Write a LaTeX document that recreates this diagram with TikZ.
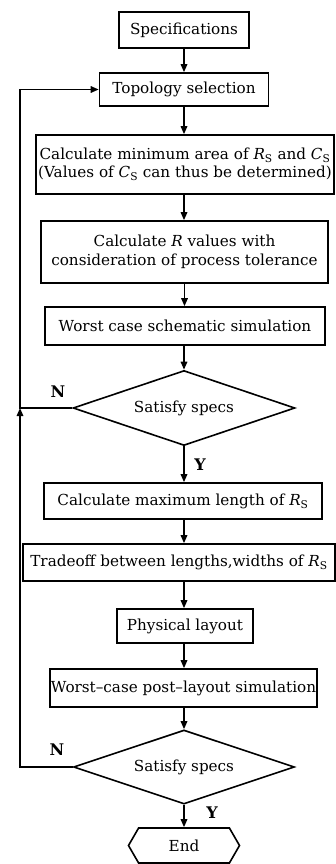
\documentclass[tikz,border=0pt]{standalone}
\usepackage{fontspec}
\setmainfont{DejaVu Serif}
\usetikzlibrary{arrows.meta,positioning,shapes.geometric,shapes.symbols}

\begin{document}
\begin{tikzpicture}[
  x=1pt,y=-1pt,
  font=\fontsize{15.2}{18.5}\selectfont,
  stepbox/.style={draw,line width=1.6pt,align=center,inner sep=1pt},
  test/.style={diamond,draw,line width=1.6pt,aspect=3,inner sep=0pt},
  arr/.style={line width=1.6pt,-{Triangle[length=8pt,width=6.5pt]}},
  lbl/.style={font=\fontsize{16}{19}\selectfont\bfseries}
]
  \useasboundingbox (0,0) rectangle (336,864);
  \node[stepbox,minimum width=130,minimum height=36] (spec) at (184,30) {Specifications};
  \node[stepbox,minimum width=169,minimum height=33] (topo) at (184,89.5) {Topology selection};
  \node[stepbox,minimum width=298,minimum height=59] (area) at (185,164.5)
    {Calculate minimum area of \textit{R}\textsubscript{S} and \textit{C}\textsubscript{S}\\(Values of \textit{C}\textsubscript{S} can thus be determined)};
  \node[stepbox,minimum width=287,minimum height=62] (rval) at (184.5,252)
    {Calculate \textit{R} values with\\consideration of process tolerance};
  \node[stepbox,minimum width=280,minimum height=38] (worst) at (185,326) {Worst case schematic simulation};
  \node[test,minimum width=222,minimum height=75] (sat1) at (184,408) {Satisfy specs};
  \node[stepbox,minimum width=278,minimum height=36] (maxlen) at (183,501) {Calculate maximum length of \textit{R}\textsubscript{S}};
  \node[stepbox,minimum width=312,minimum height=37] (trade) at (179,562.5) {Tradeoff between lengths,widths of \textit{R}\textsubscript{S}};
  \node[stepbox,minimum width=136,minimum height=34] (phys) at (185,626) {Physical layout};
  \node[stepbox,minimum width=267,minimum height=38] (post) at (183.5,688) {Worst--case post--layout simulation};
  \node[test,minimum width=221,minimum height=74] (sat2) at (184,767) {Satisfy specs};
  \node[draw,line width=1.6pt,signal,signal to=east and west,signal pointer angle=120,
    minimum width=111,minimum height=35,inner sep=0pt] (end) at (184,845.5) {End};
  % yes / no labels
  \node[lbl] (n1) at (58,392) {N};
  \node[lbl] (y1) at (200,465) {Y};
  \node[lbl] (n2) at (57,750) {N};
  \node[lbl] (y2) at (212,813) {Y};
  \coordinate (j1) at (20,408);
  % flow
  \draw[arr] (spec.south) -- (spec.south |- topo.north);
  \draw[arr] (topo.south) -- (topo.south |- area.north);
  \draw[arr] (topo.south |- area.south) -- (topo.south |- rval.north);
  \draw[arr] (rval.south) -- (rval.south |- worst.north);
  \draw[arr] (sat1.north |- worst.south) -- (sat1.north);
  \draw[arr] (sat1.south) -- (sat1.south |- maxlen.north);
  \draw[arr] (sat1.south |- maxlen.south) -- (sat1.south |- trade.north);
  \draw[arr] (sat1.south |- trade.south) -- (sat1.south |- phys.north);
  \draw[arr] (sat1.south |- phys.south) -- (sat1.south |- post.north);
  \draw[arr] (sat2.north |- post.south) -- (sat2.north);
  \draw[arr] (sat2.south) -- (sat2.south |- end.north);
  % loops back
  \draw[arr] (sat1.west) -- (j1) |- (topo.west);
  \draw[arr] (sat2.west) -| (j1);
\end{tikzpicture}
\end{document}
